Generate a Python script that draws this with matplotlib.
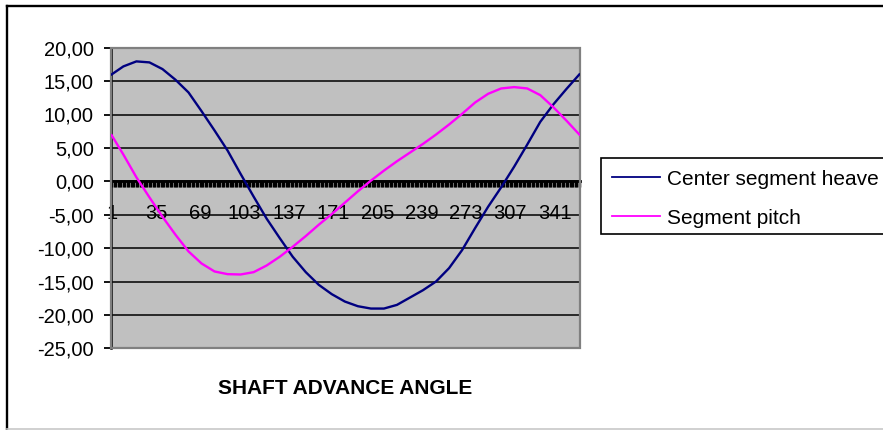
import matplotlib
matplotlib.use('Agg')
import matplotlib.pyplot as plt
from matplotlib.patches import Rectangle
from matplotlib.lines import Line2D
from matplotlib.ticker import FixedLocator, FixedFormatter, NullFormatter

# ---------------- data ----------------
categories = list(range(1, 361))
x_label_cats = [1, 35, 69, 103, 137, 171, 205, 239, 273, 307, 341]
x_tick_labels = [str(c) for c in x_label_cats]

sample_angles = [1, 10, 20, 30, 40, 50, 60, 70, 80, 90, 100, 110, 120, 130, 140,
                 150, 160, 170, 180, 190, 200, 210, 220, 230, 240, 250, 260, 270,
                 280, 290, 300, 310, 320, 330, 340, 350, 360]

heave = [16.0, 17.2, 17.95, 17.8, 16.8, 15.2, 13.3, 10.5, 7.6, 4.6, 1.1, -2.3,
         -5.6, -8.5, -11.3, -13.6, -15.5, -16.9, -18.0, -18.7, -19.05, -19.05,
         -18.5, -17.4, -16.3, -15.0, -13.0, -10.3, -7.0, -3.8, -0.9, 2.2, 5.5,
         8.9, 11.5, 13.8, 16.0]

pitch = [6.9, 4.0, 0.6, -2.4, -5.3, -8.0, -10.5, -12.3, -13.5, -13.9, -13.95,
         -13.6, -12.6, -11.3, -9.8, -8.2, -6.5, -4.9, -3.2, -1.5, 0.1, 1.6, 3.0,
         4.3, 5.6, 7.0, 8.5, 10.1, 11.8, 13.1, 13.9, 14.1, 13.9, 12.9, 11.1, 9.1,
         7.0]

y_ticks = [-25, -20, -15, -10, -5, 0, 5, 10, 15, 20]
y_tick_labels = ['-25,00', '-20,00', '-15,00', '-10,00', '-5,00', '0,00',
                 '5,00', '10,00', '15,00', '20,00']

series_names = ['Center segment heave', 'Segment pitch']
series_colors = ['#000080', '#FF00FF']
x_title = 'SHAFT ADVANCE ANGLE'

# ---------------- figure ----------------
plt.rcParams['font.family'] = ['Liberation Sans', 'DejaVu Sans']

W, H = 883, 430
fig = plt.figure(figsize=(W / 100, H / 100), dpi=100)
fig.patch.set_facecolor('white')

left_px, right_px, top_px, bottom_px = 111, 580, 47.7, 348.3
ax = fig.add_axes([left_px / W, 1 - bottom_px / H,
                   (right_px - left_px) / W, (bottom_px - top_px) / H])
ax.set_facecolor('#C0C0C0')

ax.plot(sample_angles, heave, color=series_colors[0], lw=1.7,
        label=series_names[0], zorder=3)
ax.plot(sample_angles, pitch, color=series_colors[1], lw=1.7,
        label=series_names[1], zorder=3)

ax.set_xlim(0.5, 360.5)
ax.set_ylim(-25, 20)

# y axis
ax.set_yticks(y_ticks)
ax.set_yticklabels(y_tick_labels)
ax.tick_params(axis='y', direction='out', length=5, width=1.3, pad=7.5,
               labelsize=14.5, color='black')
ax.yaxis.grid(True, color='black', lw=1.1, zorder=1)
ax.set_axisbelow(True)

# x axis crossing at 0
ax.spines['bottom'].set_position(('data', 0))
ax.spines['bottom'].set_color('black')
ax.spines['bottom'].set_linewidth(2.0)
ax.spines['bottom'].set_zorder(2.5)
boundaries = [c - 0.5 for c in categories] + [categories[-1] + 0.5]
ax.xaxis.set_major_locator(FixedLocator(boundaries))
ax.xaxis.set_major_formatter(NullFormatter())
ax.xaxis.set_minor_locator(FixedLocator(x_label_cats))
ax.xaxis.set_minor_formatter(FixedFormatter(x_tick_labels))
ax.tick_params(axis='x', which='major', direction='out', length=4.5,
               width=1.05, color='black')
ax.tick_params(axis='x', which='minor', length=0, pad=16, labelsize=14.5)

ax.spines['left'].set_color('black')
ax.spines['left'].set_linewidth(1.8)
ax.spines['top'].set_visible(False)
ax.spines['right'].set_visible(False)
ax.add_patch(Rectangle((0, 0), 1, 1, transform=ax.transAxes, fill=False,
                       edgecolor='#808080', lw=1.6, clip_on=False, zorder=2.6))

# axis title
fig.text((left_px + right_px) / 2 / W, 1 - 389 / H, x_title, ha='center',
         va='center', fontsize=15, fontweight='bold')

# legend frame (runs past the right edge of the picture, as in the reference)
fig.add_artist(Rectangle((600.7 / W, 1 - 234 / H), 320 / W, (234 - 158.3) / H,
                         transform=fig.transFigure, facecolor='white',
                         edgecolor='black', lw=1.2, zorder=4))
leg = fig.legend(loc='upper left',
                 bbox_to_anchor=(600.7 / W, 1 - 158.3 / H),
                 bbox_transform=fig.transFigure, frameon=False, fontsize=15,
                 handlelength=2.3, handletextpad=0.35, labelspacing=0.95,
                 borderpad=0.55, borderaxespad=0)
leg.set_zorder(5)
for line in leg.get_lines():
    line.set_linewidth(1.3)

# chart area border
fig.add_artist(Line2D([7 / W, 1], [1 - 6 / H, 1 - 6 / H], color='black',
                      lw=1.7, transform=fig.transFigure))
fig.add_artist(Line2D([7 / W, 7 / W], [1 - 6 / H, 1 - 429.3 / H],
                      color='black', lw=1.7, transform=fig.transFigure))
fig.add_artist(Line2D([7 / W, 1], [1 - 429.3 / H, 1 - 429.3 / H],
                      color='#C8C8C8', lw=1.2, transform=fig.transFigure))

fig.savefig('out.png', dpi=100)
